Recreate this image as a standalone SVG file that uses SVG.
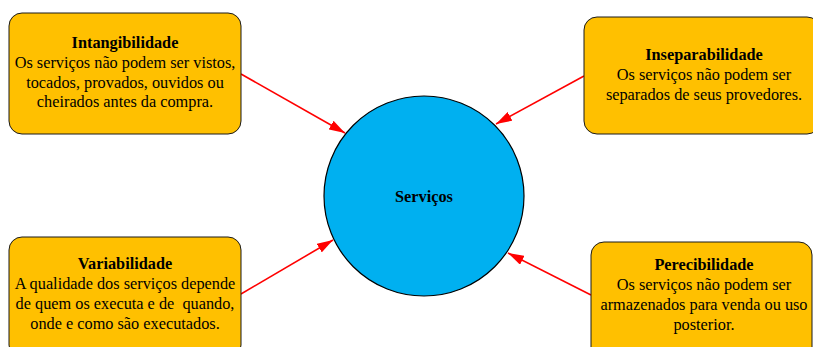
<svg xmlns="http://www.w3.org/2000/svg" width="813" height="347" viewBox="0 0 813 347">
  <defs>
    <marker id="arrow" viewBox="0 0 16 10" refX="16" refY="5" markerWidth="16" markerHeight="10" markerUnits="userSpaceOnUse" orient="auto">
      <path d="M0,0 L16,5 L0,10 Z" fill="#FF0000"/>
    </marker>
    <style>
      .box { fill: #FFC000; stroke: #1a1a1a; stroke-width: 1; }
      .hub { fill: #00B0F0; stroke: #000; stroke-width: 1.2; }
      text { font-family: "Liberation Serif", "Times New Roman", serif; font-size: 16.3px; fill: #000; text-anchor: middle; }
      .title { font-weight: bold; }
      .link { stroke: #FF0000; stroke-width: 1.6; fill: none; marker-end: url(#arrow); }
    </style>
  </defs>
  <rect width="813" height="347" fill="#FFFFFF"/>

  <g id="connectors">
    <line class="link" x1="241" y1="74" x2="345" y2="133"/>
    <line class="link" x1="584" y1="76" x2="496" y2="124"/>
    <line class="link" x1="241" y1="294" x2="333" y2="240"/>
    <line class="link" x1="591" y1="295" x2="508" y2="253"/>
  </g>

  <g id="servicos">
    <circle class="hub" cx="424" cy="196" r="100"/>
    <text class="title" x="424" y="202">Serviços</text>
  </g>

  <g id="intangibilidade">
    <rect class="box" x="9" y="13" width="232" height="121" rx="13"/>
    <text class="title" x="125" y="48">Intangibilidade</text>
    <text x="125" y="68">Os serviços não podem ser vistos,</text>
    <text x="125" y="88">tocados, provados, ouvidos ou</text>
    <text x="125" y="107">cheirados antes da compra.</text>
  </g>

  <g id="inseparabilidade">
    <rect class="box" x="584" y="17" width="236" height="117" rx="13"/>
    <text class="title" x="704" y="60">Inseparabilidade</text>
    <text x="704" y="80">Os serviços não podem ser</text>
    <text x="704" y="100">separados de seus provedores.</text>
  </g>

  <g id="variabilidade">
    <rect class="box" x="9" y="237" width="232" height="121" rx="13"/>
    <text class="title" x="125" y="269">Variabilidade</text>
    <text x="125" y="289">A qualidade dos serviços depende</text>
    <text x="125" y="309" xml:space="preserve">de quem os executa e de  quando,</text>
    <text x="125" y="329">onde e como são executados.</text>
  </g>

  <g id="perecibilidade">
    <rect class="box" x="591" y="242" width="221" height="121" rx="13"/>
    <text class="title" x="704" y="270">Perecibilidade</text>
    <text x="704" y="290">Os serviços não podem ser</text>
    <text x="704" y="310">armazenados para venda ou uso</text>
    <text x="704" y="330">posterior.</text>
  </g>
</svg>
